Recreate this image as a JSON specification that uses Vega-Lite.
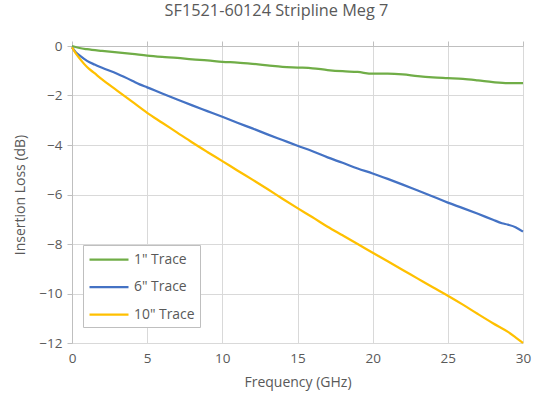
{
  "$schema": "https://vega.github.io/schema/vega-lite/v6.json",
  "width": 451,
  "height": 297,
  "autosize": {"type": "none"},
  "padding": {"left": 72, "top": 46, "right": 14, "bottom": 57},
  "background": "white",
  "title": {
    "text": "SF1521-60124 Stripline Meg 7",
    "fontSize": 16.3,
    "font": "Open Sans",
    "fontWeight": "normal",
    "color": "#595959",
    "anchor": "middle",
    "dx": -21,
    "offset": 20
  },
  "config": {
    "font": "Open Sans",
    "view": {"stroke": null},
    "axis": {
      "labelColor": "#595959",
      "titleColor": "#595959",
      "labelFontSize": 13.5,
      "titleFontSize": 14,
      "titleFontWeight": "normal",
      "gridColor": "#d9d9d9",
      "gridWidth": 1,
      "domainColor": "#bfbfbf",
      "tickColor": "#bfbfbf",
      "labelFlush": false
    },
    "legend": {
      "labelColor": "#595959",
      "labelFontSize": 13.9
    }
  },
  "data": {
    "values": [
      {"series": "1\" Trace", "freq": 0, "loss": 0},
      {"series": "1\" Trace", "freq": 0.5, "loss": -0.08},
      {"series": "1\" Trace", "freq": 1, "loss": -0.13},
      {"series": "1\" Trace", "freq": 2, "loss": -0.2},
      {"series": "1\" Trace", "freq": 3, "loss": -0.26},
      {"series": "1\" Trace", "freq": 4, "loss": -0.32},
      {"series": "1\" Trace", "freq": 5, "loss": -0.39},
      {"series": "1\" Trace", "freq": 6, "loss": -0.44},
      {"series": "1\" Trace", "freq": 7, "loss": -0.48},
      {"series": "1\" Trace", "freq": 8, "loss": -0.54},
      {"series": "1\" Trace", "freq": 9, "loss": -0.58},
      {"series": "1\" Trace", "freq": 10, "loss": -0.64},
      {"series": "1\" Trace", "freq": 11, "loss": -0.67},
      {"series": "1\" Trace", "freq": 12, "loss": -0.72},
      {"series": "1\" Trace", "freq": 13, "loss": -0.78},
      {"series": "1\" Trace", "freq": 14, "loss": -0.84},
      {"series": "1\" Trace", "freq": 15, "loss": -0.87},
      {"series": "1\" Trace", "freq": 16, "loss": -0.9},
      {"series": "1\" Trace", "freq": 17, "loss": -0.97},
      {"series": "1\" Trace", "freq": 18, "loss": -1.02},
      {"series": "1\" Trace", "freq": 19, "loss": -1.05},
      {"series": "1\" Trace", "freq": 20, "loss": -1.12},
      {"series": "1\" Trace", "freq": 21, "loss": -1.12},
      {"series": "1\" Trace", "freq": 22, "loss": -1.15},
      {"series": "1\" Trace", "freq": 23, "loss": -1.22},
      {"series": "1\" Trace", "freq": 24, "loss": -1.27},
      {"series": "1\" Trace", "freq": 25, "loss": -1.3},
      {"series": "1\" Trace", "freq": 26, "loss": -1.33},
      {"series": "1\" Trace", "freq": 27, "loss": -1.39},
      {"series": "1\" Trace", "freq": 28, "loss": -1.46},
      {"series": "1\" Trace", "freq": 29, "loss": -1.5},
      {"series": "1\" Trace", "freq": 30, "loss": -1.5},
      {"series": "6\" Trace", "freq": 0, "loss": -0.05},
      {"series": "6\" Trace", "freq": 0.25, "loss": -0.25},
      {"series": "6\" Trace", "freq": 0.5, "loss": -0.38},
      {"series": "6\" Trace", "freq": 1, "loss": -0.6},
      {"series": "6\" Trace", "freq": 1.5, "loss": -0.75},
      {"series": "6\" Trace", "freq": 2, "loss": -0.88},
      {"series": "6\" Trace", "freq": 3, "loss": -1.12},
      {"series": "6\" Trace", "freq": 4, "loss": -1.4},
      {"series": "6\" Trace", "freq": 4.5, "loss": -1.55},
      {"series": "6\" Trace", "freq": 5, "loss": -1.67},
      {"series": "6\" Trace", "freq": 6, "loss": -1.92},
      {"series": "6\" Trace", "freq": 7, "loss": -2.16},
      {"series": "6\" Trace", "freq": 8, "loss": -2.4},
      {"series": "6\" Trace", "freq": 9, "loss": -2.63},
      {"series": "6\" Trace", "freq": 10, "loss": -2.86},
      {"series": "6\" Trace", "freq": 11, "loss": -3.1},
      {"series": "6\" Trace", "freq": 12, "loss": -3.33},
      {"series": "6\" Trace", "freq": 13, "loss": -3.57},
      {"series": "6\" Trace", "freq": 14, "loss": -3.8},
      {"series": "6\" Trace", "freq": 15, "loss": -4.03},
      {"series": "6\" Trace", "freq": 16, "loss": -4.25},
      {"series": "6\" Trace", "freq": 17, "loss": -4.5},
      {"series": "6\" Trace", "freq": 18, "loss": -4.72},
      {"series": "6\" Trace", "freq": 19, "loss": -4.95},
      {"series": "6\" Trace", "freq": 20, "loss": -5.15},
      {"series": "6\" Trace", "freq": 21, "loss": -5.37},
      {"series": "6\" Trace", "freq": 22, "loss": -5.6},
      {"series": "6\" Trace", "freq": 23, "loss": -5.84},
      {"series": "6\" Trace", "freq": 24, "loss": -6.08},
      {"series": "6\" Trace", "freq": 25, "loss": -6.33},
      {"series": "6\" Trace", "freq": 26, "loss": -6.55},
      {"series": "6\" Trace", "freq": 27, "loss": -6.78},
      {"series": "6\" Trace", "freq": 28, "loss": -7.02},
      {"series": "6\" Trace", "freq": 28.6, "loss": -7.16},
      {"series": "6\" Trace", "freq": 29, "loss": -7.22},
      {"series": "6\" Trace", "freq": 29.5, "loss": -7.32},
      {"series": "6\" Trace", "freq": 30, "loss": -7.5},
      {"series": "10\" Trace", "freq": 0, "loss": -0.05},
      {"series": "10\" Trace", "freq": 0.25, "loss": -0.3},
      {"series": "10\" Trace", "freq": 0.5, "loss": -0.5},
      {"series": "10\" Trace", "freq": 1, "loss": -0.85},
      {"series": "10\" Trace", "freq": 1.5, "loss": -1.1},
      {"series": "10\" Trace", "freq": 2, "loss": -1.35},
      {"series": "10\" Trace", "freq": 3, "loss": -1.8},
      {"series": "10\" Trace", "freq": 4, "loss": -2.25},
      {"series": "10\" Trace", "freq": 5, "loss": -2.7},
      {"series": "10\" Trace", "freq": 6, "loss": -3.1},
      {"series": "10\" Trace", "freq": 7, "loss": -3.5},
      {"series": "10\" Trace", "freq": 8, "loss": -3.9},
      {"series": "10\" Trace", "freq": 9, "loss": -4.28},
      {"series": "10\" Trace", "freq": 10, "loss": -4.65},
      {"series": "10\" Trace", "freq": 11, "loss": -5.03},
      {"series": "10\" Trace", "freq": 12, "loss": -5.4},
      {"series": "10\" Trace", "freq": 13, "loss": -5.78},
      {"series": "10\" Trace", "freq": 14, "loss": -6.17},
      {"series": "10\" Trace", "freq": 15, "loss": -6.55},
      {"series": "10\" Trace", "freq": 16, "loss": -6.92},
      {"series": "10\" Trace", "freq": 17, "loss": -7.3},
      {"series": "10\" Trace", "freq": 18, "loss": -7.65},
      {"series": "10\" Trace", "freq": 19, "loss": -8.0},
      {"series": "10\" Trace", "freq": 20, "loss": -8.35},
      {"series": "10\" Trace", "freq": 21, "loss": -8.7},
      {"series": "10\" Trace", "freq": 22, "loss": -9.05},
      {"series": "10\" Trace", "freq": 23, "loss": -9.4},
      {"series": "10\" Trace", "freq": 24, "loss": -9.75},
      {"series": "10\" Trace", "freq": 25, "loss": -10.09},
      {"series": "10\" Trace", "freq": 26, "loss": -10.45},
      {"series": "10\" Trace", "freq": 27, "loss": -10.83},
      {"series": "10\" Trace", "freq": 28, "loss": -11.2},
      {"series": "10\" Trace", "freq": 29, "loss": -11.55},
      {"series": "10\" Trace", "freq": 29.5, "loss": -11.77},
      {"series": "10\" Trace", "freq": 30, "loss": -12.0}
    ]
  },
  "layer": [
    {
      "mark": {"type": "line", "opacity": 0},
      "encoding": {
        "x": {
          "field": "freq", "type": "quantitative",
          "scale": {"domain": [0, 30], "nice": false},
          "axis": {"orient": "top", "labels": false, "ticks": true, "tickSize": 5, "domain": true, "grid": false, "title": null, "values": [0, 5, 10, 15, 20, 25, 30]}
        },
        "y": {
          "field": "loss", "type": "quantitative",
          "scale": {"domain": [-12, 0], "nice": false},
          "axis": {"values": [-12, -10, -8, -6, -4, -2, 0], "domain": true, "ticks": true, "tickSize": 5, "grid": true, "labelPadding": 5, "title": "Insertion Loss (dB)", "titlePadding": 11}
        },
        "detail": {"field": "series"}
      }
    },
    {
      "mark": {"type": "line", "strokeWidth": 2.25, "interpolate": "monotone"},
      "encoding": {
        "x": {
          "field": "freq", "type": "quantitative",
          "scale": {"domain": [0, 30], "nice": false},
          "axis": {"orient": "bottom", "values": [0, 5, 10, 15, 20, 25, 30], "domain": false, "ticks": false, "grid": true, "labelPadding": 8, "title": "Frequency (GHz)", "titlePadding": 11}
        },
        "y": {
          "field": "loss", "type": "quantitative",
          "scale": {"domain": [-12, 0], "nice": false},
          "axis": {"values": [-12, -10, -8, -6, -4, -2, 0], "domain": true, "ticks": true, "tickSize": 5, "grid": true, "labelPadding": 5, "title": "Insertion Loss (dB)", "titlePadding": 11}
        },
        "color": {
          "field": "series", "type": "nominal",
          "scale": {"domain": ["1\" Trace", "6\" Trace", "10\" Trace"], "range": ["#70AD47", "#4472C4", "#FFC000"]},
          "legend": {
            "title": null,
            "orient": "none",
            "legendX": 11,
            "legendY": 199,
            "symbolType": "M-1,0H3.875",
            "symbolSize": 256,
            "symbolStrokeWidth": 2.25,
            "strokeColor": "#bfbfbf",
            "fillColor": "white",
            "padding": 5,
            "rowPadding": 10.5,
            "labelOffset": 27
          }
        }
      }
    }
  ],
  "resolve": {"axis": {"x": "independent"}}
}
